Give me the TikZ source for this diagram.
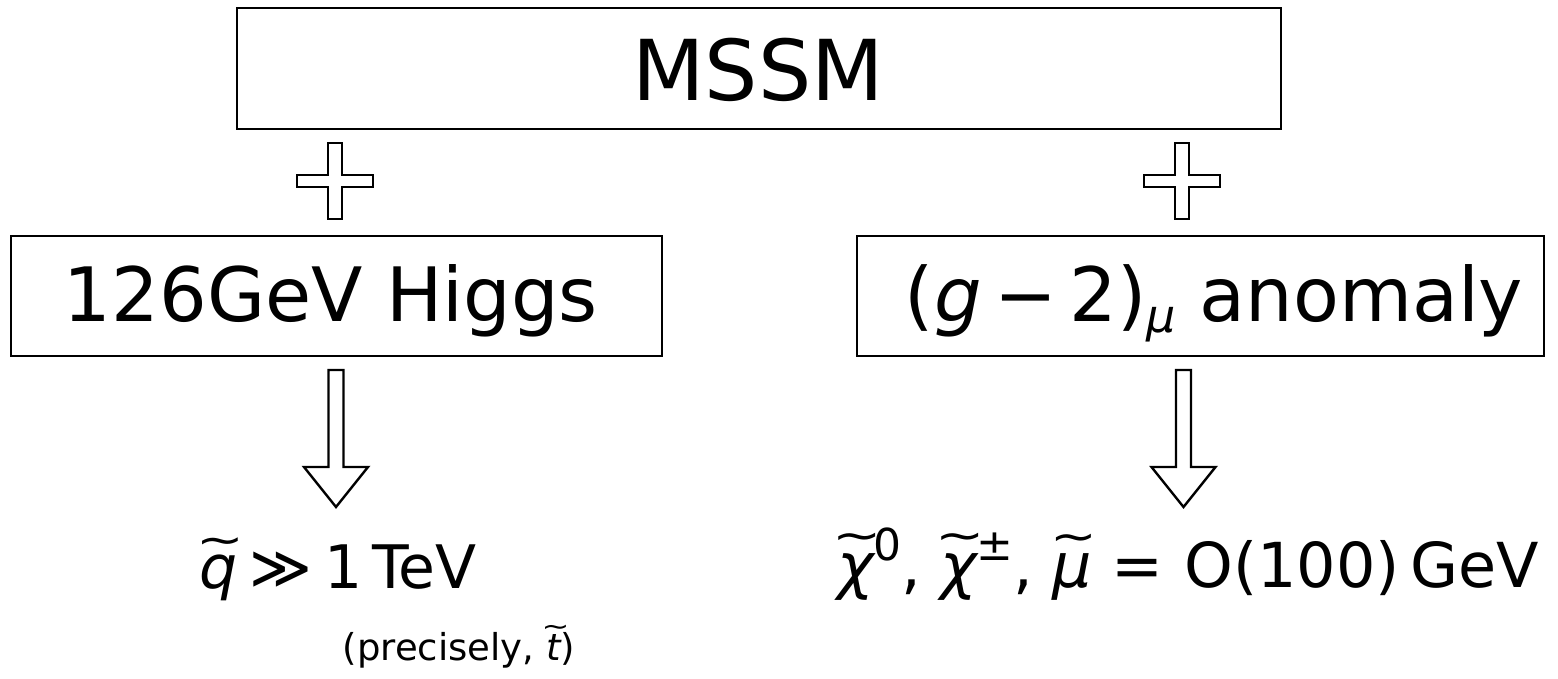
\documentclass[tikz,border=0pt]{standalone}
\usepackage{fontspec}
\setmainfont{DejaVu Sans}
\usepackage{graphicx}
% #1 raise, #2 horizontal shift, #3 letter, #4 horizontal scale of the tilde
\newcommand\wtl[4]{\setbox0\hbox{\itshape #3}\leavevmode\hbox{\rlap{\hbox to \wd0{\hss\kern#2\raisebox{#1}{\scalebox{#4}[0.7]{\upshape ∼}}\hss}}\box0}}
\newcommand\supx[1]{\raisebox{27pt}{\fontsize{44}{44}\selectfont #1}}
\tikzset{
  box/.style={draw, line width=2.2pt, inner sep=0pt, anchor=north west},
  shapeline/.style={draw, line width=2.4pt, line join=miter},
  txt/.style={inner sep=0pt, anchor=base},
}
\begin{document}
\begin{tikzpicture}[x=1pt,y=-1pt]
\useasboundingbox (0,0) rectangle (1558,678);
% boxes
\node[box, minimum width=1044pt, minimum height=121pt] (mssm) at (236,7) {};
\node[txt, font=\fontsize{84}{84}\selectfont] (mssmtxt) at (758,100) {MSSM};
\node[box, minimum width=651pt, minimum height=120pt] (higgs) at (10,235) {};
\node[txt, font=\fontsize{75}{75}\selectfont] (higgstxt) at (331,321) {126GeV Higgs};
\node[box, minimum width=687pt, minimum height=120pt] (gm2) at (856,235) {};
\node[txt, font=\fontsize{75}{75}\selectfont] (gm2txt) at (1214,321) {(\textit{g}\,−\,2)\raisebox{-11pt}{\fontsize{46}{46}\selectfont\itshape μ} anomaly};
% plus signs
\foreach \cx/\nm in {335/pl, 1182/pr}{
  \coordinate (\nm) at (\cx,181);
  \draw[shapeline] ([shift={(-7,-38)}]\nm) -- ++(14,0) -- ++(0,32) -- ++(31,0) -- ++(0,12) -- ++(-31,0) -- ++(0,32) -- ++(-14,0) -- ++(0,-32) -- ++(-31,0) -- ++(0,-12) -- ++(31,0) -- cycle;
}
% block arrows
\foreach \cx/\nm in {336/al, 1183.5/ar}{
  \coordinate (\nm) at (\cx,370);
  \draw[shapeline] ([shift={(-7.5,0)}]\nm) -- ++(15,0) -- ++(0,97) -- ++(24.5,0) -- ++(-32,40) -- ++(-32,-40) -- ++(24.5,0) -- cycle;
}
% results
\node[txt, font=\fontsize{60}{60}\selectfont] (qres) at (338,588) {\wtl{34pt}{5pt}{q}{0.95}\hspace{0.2em}≫\hspace{0.2em}1\,TeV};
\node[txt, font=\fontsize{37}{37}\selectfont] (prec) at (459,660) {(precisely, \wtl{25pt}{4pt}{t}{0.9})};
\node[txt, font=\fontsize{62}{62}\selectfont] (chires) at (1188,587) {\wtl{37pt}{3pt}{χ}{0.95}\supx{0},\hspace{0.3em}\wtl{37pt}{3pt}{χ}{0.95}\supx{±},\hspace{0.3em}\wtl{36pt}{4pt}{μ}{0.9}\hspace{0.33em}=\hspace{0.33em}O(100)\,GeV};
\end{tikzpicture}
\end{document}
